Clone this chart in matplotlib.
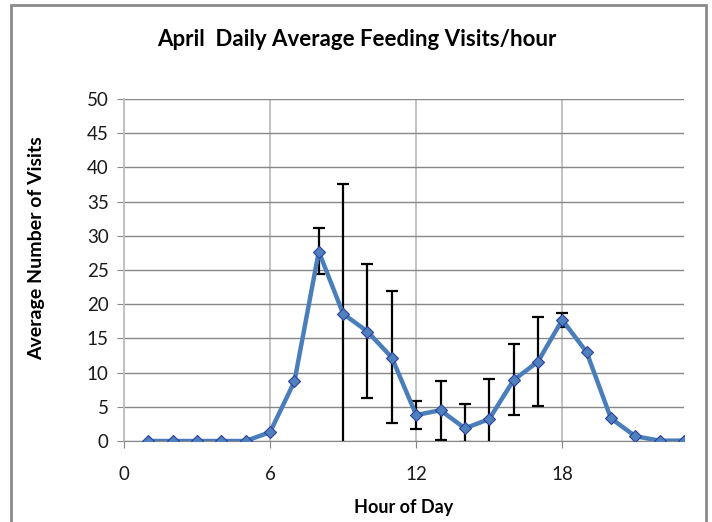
import matplotlib
matplotlib.use('Agg')
import matplotlib.pyplot as plt
import numpy as np

# data
hours = [1, 2, 3, 4, 5, 6, 7, 8, 9, 10, 11, 12, 13, 14, 15, 16, 17, 18, 19, 20, 21, 22, 23]
visits = [0, 0, 0, 0, 0, 1.3, 8.7, 27.7, 18.6, 16.0, 12.2, 3.8, 4.5, 1.85, 3.2, 8.9, 11.6, 17.7, 13.0, 3.3, 0.7, 0.05, 0.05]

# error bar ends (hours 8-18)
err_hours = [8, 9, 10, 11, 12, 13, 14, 15, 16, 17, 18]
err_upper = [31.1, 37.6, 25.9, 22.0, 5.9, 8.8, 5.4, 9.1, 14.2, 18.2, 18.75]
err_lower = [24.4, -0.4, 6.3, 2.7, 1.7, 0.15, -0.1, -2.7, 3.8, 5.1, 16.7]

plt.rcParams['font.family'] = ['Lato', 'DejaVu Sans']

fig = plt.figure(figsize=(7.12, 5.22), dpi=100)
ax = fig.add_axes([124 / 712, 1 - 441 / 522, 560 / 712, 342 / 522])

# chart border like an Excel chart area
fig.patches.append(plt.Rectangle((11 / 712, -0.05), 695 / 712, 1.04, transform=fig.transFigure,
                                 fill=False, edgecolor='#8a8a8a', linewidth=2))

mid = [visits[h - 1] for h in err_hours]
yerr = [np.array(mid) - np.array(err_lower), np.array(err_upper) - np.array(mid)]
ax.errorbar(err_hours, mid, yerr=yerr, fmt='none', ecolor='black', elinewidth=1.6,
            capsize=4.5, capthick=1.6, zorder=2)

ax.plot(hours, visits, color='#4a7ebb', linewidth=3.2, marker='D', markersize=6.5,
        markerfacecolor='#4f81bd', markeredgecolor='#2c3f9e', markeredgewidth=0.8, zorder=3)

ax.set_xlim(0, 23)
ax.set_ylim(0, 50)
ax.set_xticks([0, 6, 12, 18])
ax.set_yticks(range(0, 51, 5))
ax.yaxis.grid(True, color='#878787', linewidth=1)
ax.xaxis.grid(True, color='#bebebe', linewidth=1.3)
ax.set_axisbelow(True)

for s in ['top', 'right']:
    ax.spines[s].set_visible(False)
ax.spines['left'].set_color('#bebebe')
ax.spines['left'].set_linewidth(1.3)
ax.spines['bottom'].set_color('#878787')
ax.tick_params(axis='both', colors='#878787', length=5, labelsize=13.5, labelcolor='#1a1a1a')
ax.tick_params(axis='x', pad=13)
ax.tick_params(axis='y', pad=6)

fig.text(357 / 712, 1 - 40 / 522, 'April  Daily Average Feeding Visits/hour', fontsize=16,
         fontweight='bold', ha='center', va='center')
fig.text(404 / 712, 1 - 508 / 522, 'Hour of Day', fontsize=13, fontweight='bold',
         ha='center', va='center')
fig.text(37 / 712, 1 - 248 / 522, 'Average Number of Visits', fontsize=14, fontweight='bold',
         ha='center', va='center', rotation=90)

plt.savefig('out.png', dpi=100)
